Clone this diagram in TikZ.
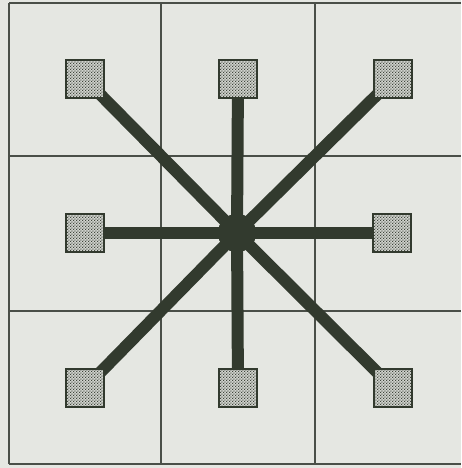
\documentclass[tikz,border=0pt]{standalone}
\usetikzlibrary{patterns}
\definecolor{bgc}{HTML}{E5E7E2}
\definecolor{ink}{HTML}{323A2E}
\definecolor{gridc}{HTML}{4A4F48}
\definecolor{stipbg}{HTML}{D2D4CF}
\pgfdeclarepatternformonly{stipple}{\pgfpointorigin}{\pgfpoint{3.2pt}{3.2pt}}{\pgfpoint{3.2pt}{3.2pt}}{%
  \pgfpathcircle{\pgfpoint{0.8pt}{0.8pt}}{0.85pt}%
  \pgfpathcircle{\pgfpoint{2.4pt}{2.4pt}}{0.85pt}%
  \pgfusepath{fill}}
\begin{document}
\begin{tikzpicture}[x=1pt,y=-1pt,
  cell/.style={draw=gridc,line width=1.4pt},
  spoke/.style={draw=ink,line width=12pt},
  pixel/.style={draw=ink,line width=2pt,minimum size=38pt,inner sep=0pt,
    preaction={fill=stipbg},pattern=stipple,pattern color=ink},
  hub/.style={circle,fill=ink,minimum size=38pt,inner sep=0pt}]
\fill[bgc] (0,0) rectangle (461,468);
\useasboundingbox (0,0) rectangle (461,468);
% grid
\draw[cell] (9,3) -- (461,3);
\draw[cell] (9,156) -- (461,156);
\draw[cell] (9,311) -- (461,311);
\draw[cell] (9,464) -- (461,464);
\draw[cell] (9,3) -- (9,464);
\draw[cell] (161,3) -- (161,464);
\draw[cell] (315,3) -- (315,464);
% nodes
\node[hub] (c) at (237,233) {};
\coordinate (ptl) at (85,79);
\coordinate (ptm) at (238,79);
\coordinate (ptr) at (393,79);
\coordinate (pml) at (85,233);
\coordinate (pmr) at (392,233);
\coordinate (pbl) at (85,388);
\coordinate (pbm) at (238,388);
\coordinate (pbr) at (393,388);
\foreach \p in {ptl,ptm,ptr,pml,pmr,pbl,pbm,pbr}
  \draw[spoke] (c.center) -- (\p);
\node[hub] at (c) {};
\node[pixel] (tl) at (ptl) {};
\node[pixel] (tm) at (ptm) {};
\node[pixel] (tr) at (ptr) {};
\node[pixel] (ml) at (pml) {};
\node[pixel] (mr) at (pmr) {};
\node[pixel] (bl) at (pbl) {};
\node[pixel] (bm) at (pbm) {};
\node[pixel] (br) at (pbr) {};
\end{tikzpicture}
\end{document}
